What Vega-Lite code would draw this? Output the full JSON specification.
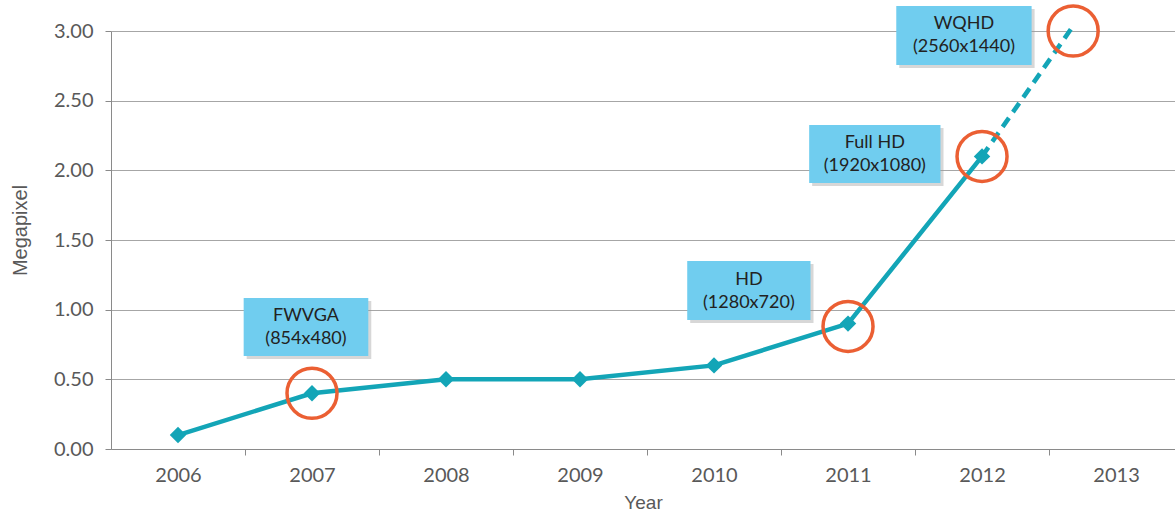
{
  "$schema": "https://vega.github.io/schema/vega-lite/v6.json",
  "width": 1064,
  "height": 418,
  "autosize": {"type": "none"},
  "padding": {"left": 111, "top": 31, "right": 0, "bottom": 66},
  "background": "white",
  "config": {
    "view": {"stroke": null},
    "font": "Lato",
    "axis": {"labelFont": "Lato", "titleFont": "Liberation Sans", "labelColor": "#595959", "titleColor": "#595959", "titleFontWeight": "normal"}
  },
  "datasets": {
    "main": [
      {"year": 2006, "mp": 0.10},
      {"year": 2007, "mp": 0.40},
      {"year": 2008, "mp": 0.50},
      {"year": 2009, "mp": 0.50},
      {"year": 2010, "mp": 0.60},
      {"year": 2011, "mp": 0.90},
      {"year": 2012, "mp": 2.10}
    ],
    "proj": [
      {"year": 2012, "mp": 2.10},
      {"year": 2012.69, "mp": 3.05}
    ],
    "rings": [
      {"year": 2007, "mp": 0.40},
      {"year": 2011, "mp": 0.88},
      {"year": 2012, "mp": 2.10},
      {"year": 2012.68, "mp": 3.00}
    ],
    "notes": [
      {"label": "FWVGA\n(854x480)", "x1": 2006.49, "x2": 2007.42, "y1": 0.667, "y2": 1.084},
      {"label": "HD\n(1280x720)", "x1": 2009.80, "x2": 2010.72, "y1": 0.926, "y2": 1.349},
      {"label": "Full HD\n(1920x1080)", "x1": 2010.71, "x2": 2011.69, "y1": 1.909, "y2": 2.325},
      {"label": "WQHD\n(2560x1440)", "x1": 2011.36, "x2": 2012.37, "y1": 2.756, "y2": 3.180}
    ]
  },
  "layer": [
    {
      "data": {"name": "notes"},
      "mark": {"type": "rect", "fill": "#9a9a9a", "opacity": 0.4, "xOffset": 3, "x2Offset": 3, "yOffset": 3, "y2Offset": 3},
      "encoding": {
        "x": {
          "field": "x1", "type": "quantitative", "title": "Year",
          "scale": {"domain": [2005.5, 2013.44], "nice": false, "zero": false},
          "axis": {
            "values": [2006, 2006.5, 2007, 2007.5, 2008, 2008.5, 2009, 2009.5, 2010, 2010.5, 2011, 2011.5, 2012, 2012.5, 2013],
            "labelExpr": "datum.value % 1 ? '' : '' + datum.value",
            "grid": false,
            "domainColor": "#8a8a8a",
            "tickColor": "#8a8a8a",
            "tickSize": 6,
            "tickOpacity": {"condition": {"test": "datum.value % 1 === 0", "value": 0}, "value": 1},
            "labelFontSize": 20,
            "labelPadding": 10,
            "titleFontSize": 19,
            "titlePadding": 8
          }
        },
        "x2": {"field": "x2"},
        "y": {
          "field": "y1", "type": "quantitative", "title": "Megapixel",
          "scale": {"domain": [0, 3], "nice": false},
          "axis": {
            "values": [0, 0.5, 1, 1.5, 2, 2.5, 3],
            "format": ".2f",
            "grid": true,
            "gridColor": "#a6a6a6",
            "domainColor": "#8a8a8a",
            "tickColor": "#8a8a8a",
            "tickSize": 6,
            "labelFontSize": 20,
            "labelPadding": 12,
            "titleFontSize": 20,
            "titlePadding": 23,
            "titleY": 199
          }
        },
        "y2": {"field": "y2"}
      }
    },
    {
      "data": {"name": "notes"},
      "mark": {"type": "rect", "fill": "#70CDEF"},
      "encoding": {
        "x": {"field": "x1", "type": "quantitative"},
        "x2": {"field": "x2"},
        "y": {"field": "y1", "type": "quantitative"},
        "y2": {"field": "y2"}
      }
    },
    {
      "data": {"name": "notes"},
      "transform": [
        {"calculate": "(datum.x1 + datum.x2) / 2", "as": "cx"},
        {"calculate": "(datum.y1 + datum.y2) / 2", "as": "cy"}
      ],
      "mark": {"type": "text", "lineBreak": "\n", "font": "Lato", "fontSize": 18, "color": "#222222", "align": "center", "baseline": "middle", "lineHeight": 23, "dy": -11},
      "encoding": {
        "x": {"field": "cx", "type": "quantitative"},
        "y": {"field": "cy", "type": "quantitative"},
        "text": {"field": "label"}
      }
    },
    {
      "data": {"name": "main"},
      "mark": {"type": "line", "color": "#13A5B7", "strokeWidth": 4.5, "point": {"shape": "diamond", "size": 270, "filled": true, "color": "#13A5B7", "opacity": 1}},
      "encoding": {
        "x": {"field": "year", "type": "quantitative"},
        "y": {"field": "mp", "type": "quantitative"}
      }
    },
    {
      "data": {"name": "proj"},
      "mark": {"type": "line", "color": "#13A5B7", "strokeWidth": 4.5, "strokeDash": [11, 7]},
      "encoding": {
        "x": {"field": "year", "type": "quantitative"},
        "y": {"field": "mp", "type": "quantitative"}
      }
    },
    {
      "data": {"name": "rings"},
      "mark": {"type": "point", "shape": "circle", "size": 2500, "filled": false, "stroke": "#EB5F33", "strokeWidth": 3.5, "opacity": 1},
      "encoding": {
        "x": {"field": "year", "type": "quantitative"},
        "y": {"field": "mp", "type": "quantitative"}
      }
    }
  ]
}
